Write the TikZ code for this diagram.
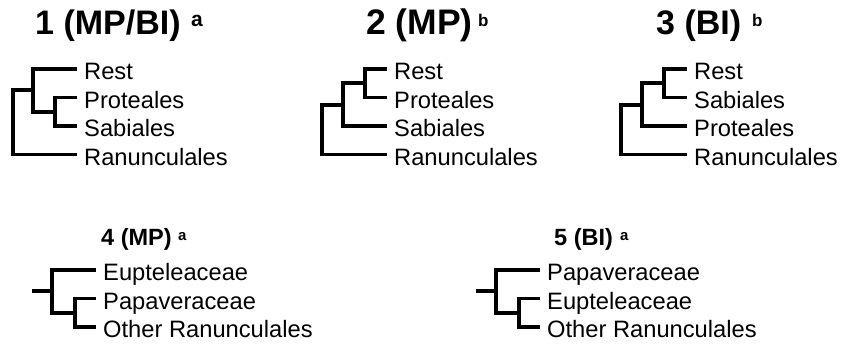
\documentclass[tikz,border=0pt]{standalone}
\usepackage{fontspec}
\setmainfont{Liberation Sans}
\begin{document}
\begin{tikzpicture}[x=1pt,y=-1pt,
  branch/.style={line width=3.9pt, line join=miter},
  leaf/.style={anchor=west, inner xsep=7pt, inner ysep=0pt,
    text height=21.5pt, text depth=0.5pt,
    font=\fontsize{23.7}{26}\selectfont},
  bigtitle/.style={anchor=base west, inner sep=0pt,
    font=\bfseries\fontsize{34}{36}\selectfont},
  smalltitle/.style={anchor=base west, inner sep=0pt,
    font=\bfseries\fontsize{23.5}{26}\selectfont},
  supa/.style={anchor=base west, inner sep=0pt,
    font=\bfseries\fontsize{21}{22}\selectfont},
  supb/.style={anchor=base west, inner sep=0pt,
    font=\bfseries\fontsize{17}{18}\selectfont},
  smallsup/.style={anchor=base west, inner sep=0pt,
    font=\bfseries\fontsize{15}{16}\selectfont}]
\useasboundingbox (0,0) rectangle (841,345);

% ---- Tree 1 ----
\node[bigtitle] (t1) at (35,35) {1 (MP/BI)};
\node[supa] (s1) at (191,27) {a};
\node[leaf] (l1a) at (77,69)    {Rest};
\node[leaf] (l1b) at (77,97.5)  {Proteales};
\node[leaf] (l1c) at (77,126)   {Sabiales};
\node[leaf] (l1d) at (77,154.5) {Ranunculales};
\coordinate (n1b) at (55,111.75);
\coordinate (n1a) at (33,90.4);
\coordinate (r1)  at (13,122.4);
\draw[branch] (l1b.west) -| (n1b) |- (l1c.west);
\draw[branch] (l1a.west) -| (n1a) |- (n1b);
\draw[branch] (n1a) -| (r1) |- (l1d.west);

% ---- Tree 2 ----
\node[bigtitle, font=\bfseries\fontsize{35.5}{37}\selectfont] (t2) at (366,35) {2 (MP)};
\node[supb] (s2) at (478,27) {b};
\node[leaf] (l2a) at (387,69)    {Rest};
\node[leaf] (l2b) at (387,97.5)  {Proteales};
\node[leaf] (l2c) at (387,126)   {Sabiales};
\node[leaf] (l2d) at (387,154.5) {Ranunculales};
\coordinate (n2a) at (365,83.25);
\coordinate (n2b) at (343,104.6);
\coordinate (r2)  at (322,129.6);
\draw[branch] (l2a.west) -| (n2a) |- (l2b.west);
\draw[branch] (n2a) -| (n2b) |- (l2c.west);
\draw[branch] (n2b) -| (r2) |- (l2d.west);

% ---- Tree 3 ----
\node[bigtitle] (t3) at (656,35) {3 (BI)};
\node[supb] (s3) at (752,27) {b};
\node[leaf] (l3a) at (687,69)    {Rest};
\node[leaf] (l3b) at (687,97.5)  {Sabiales};
\node[leaf] (l3c) at (687,126)   {Proteales};
\node[leaf] (l3d) at (687,154.5) {Ranunculales};
\coordinate (n3a) at (664,83.25);
\coordinate (n3b) at (642,104.6);
\coordinate (r3)  at (621,129.6);
\draw[branch] (l3a.west) -| (n3a) |- (l3b.west);
\draw[branch] (n3a) -| (n3b) |- (l3c.west);
\draw[branch] (n3b) -| (r3) |- (l3d.west);

% ---- Tree 4 ----
\node[smalltitle] (t4) at (101,245) {4 (MP)};
\node[smallsup] (s4) at (178,240) {a};
\node[leaf] (l4a) at (96,270)   {Eupteleaceae};
\node[leaf] (l4b) at (96,298.5) {Papaveraceae};
\node[leaf] (l4c) at (96,327)   {Other Ranunculales};
\coordinate (n4b) at (75,312.75);
\coordinate (n4a) at (52,291.4);
\coordinate (r4)  at (32,291.4);
\draw[branch] (l4b.west) -| (n4b) |- (l4c.west);
\draw[branch] (l4a.west) -| (n4a) |- (n4b);
\draw[branch] (r4) -- (n4a);

% ---- Tree 5 ----
\node[smalltitle] (t5) at (554,245) {5 (BI)};
\node[smallsup] (s5) at (620,240) {a};
\node[leaf] (l5a) at (540,270)   {Papaveraceae};
\node[leaf] (l5b) at (540,298.5) {Eupteleaceae};
\node[leaf] (l5c) at (540,327)   {Other Ranunculales};
\coordinate (n5b) at (519,312.75);
\coordinate (n5a) at (496,291.4);
\coordinate (r5)  at (476,291.4);
\draw[branch] (l5b.west) -| (n5b) |- (l5c.west);
\draw[branch] (l5a.west) -| (n5a) |- (n5b);
\draw[branch] (r5) -- (n5a);
\end{tikzpicture}
\end{document}
